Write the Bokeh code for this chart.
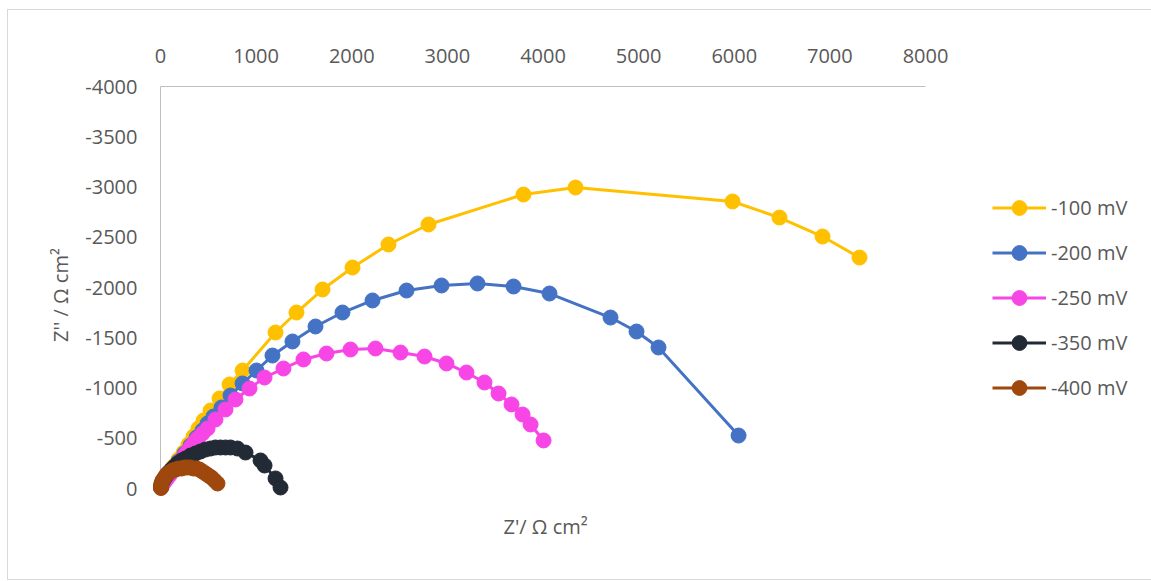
from bokeh.plotting import figure
from bokeh.models import Range1d, FixedTicker, Legend, LegendItem, Title, CustomJSTickFormatter
from bokeh.embed import file_html
from bokeh.resources import INLINE

# ---------------- data ----------------
series_names = ["-100 mV", "-200 mV", "-250 mV", "-350 mV", "-400 mV"]
series_colors = ["#FFC000", "#4472C4", "#F745E6", "#222A35", "#9E480E"]

zre_100 = [10, 42, 84, 136, 188, 241, 293, 345, 397, 450, 523, 617, 722, 858, 1203, 1422,
           1694, 2008, 2384, 2803, 3796, 4340, 5982, 6473, 6923, 7310]
zim_100 = [-20, -70, -139, -219, -289, -358, -438, -517, -597, -677, -776, -896, -1035, -1174,
           -1552, -1751, -1980, -2199, -2428, -2627, -2925, -2995, -2856, -2696, -2507, -2298]

zre_200 = [10, 42, 84, 136, 188, 251, 314, 377, 439, 492, 554, 638, 732, 858, 1004, 1171, 1380,
           1621, 1903, 2217, 2573, 2939, 3315, 3692, 4068, 4706, 4978, 5208, 6045]
zim_200 = [-20, -70, -129, -199, -269, -348, -428, -507, -577, -647, -716, -806, -925, -1045,
           -1174, -1323, -1463, -1612, -1751, -1871, -1970, -2020, -2040, -2010, -1940, -1701,
           -1562, -1403, -527]

zre_250 = [10, 31, 63, 94, 125, 157, 188, 220, 251, 282, 314, 345, 387, 439, 492, 575, 680, 784,
           931, 1088, 1286, 1495, 1736, 1987, 2248, 2510, 2761, 2991, 3200, 3388, 3535, 3671,
           3786, 3870, 4006]
zim_250 = [-20, -50, -90, -129, -169, -209, -249, -289, -328, -368, -408, -448, -498, -547, -597,
           -687, -786, -886, -995, -1104, -1194, -1284, -1343, -1383, -1393, -1353, -1313, -1244,
           -1154, -1055, -945, -836, -736, -637, -478]

zre_350 = [5, 10, 21, 42, 63, 84, 115, 146, 178, 220, 261, 314, 366, 418, 471, 523, 575, 627,
           680, 732, 805, 889, 1046, 1088, 1203, 1255]
zim_350 = [-10, -40, -70, -100, -129, -159, -189, -219, -249, -279, -298, -328, -348, -368,
           -388, -398, -408, -408, -408, -408, -398, -358, -279, -229, -100, -10]

zre_400 = [5, 5, 10, 21, 42, 63, 94, 125, 157, 188, 220, 251, 282, 314, 345, 377, 408, 439,
           471, 502, 533, 565, 596]
zim_400 = [-5, -20, -50, -80, -109, -139, -159, -179, -189, -199, -199, -209, -209, -209,
           -199, -199, -189, -169, -149, -129, -109, -80, -50]

x_ticks = [0, 1000, 2000, 3000, 4000, 5000, 6000, 7000, 8000]
y_ticks = [-4000, -3500, -3000, -2500, -2000, -1500, -1000, -500, 0]

x_title = "Z'/ Ω cm²"
y_title = "Z'' / Ω cm²"

all_x = [zre_100, zre_200, zre_250, zre_350, zre_400]
all_y = [zim_100, zim_200, zim_250, zim_350, zim_400]

# ---------------- figure ----------------
FONT = "Open Sans"
TXT = "#595959"
AXIS = "#BFBFBF"

p = figure(
    frame_width=780, frame_height=417,
    min_border_left=137, min_border_right=224, min_border_top=76, min_border_bottom=76,
    x_range=Range1d(-156.86, 8000), y_range=Range1d(149.25, -4000),
    x_axis_location="above", y_axis_location="left",
    output_backend="svg", toolbar_location=None,
)
p.styles = {"border": "1px solid #D9D9D9", "margin-left": "7px", "margin-top": "9px"}
p.grid.visible = False
p.outline_line_color = None
p.background_fill_color = "white"
p.border_fill_color = "white"

plain = CustomJSTickFormatter(code="return tick.toString();")

xa = p.xaxis[0]
xa.ticker = FixedTicker(ticks=x_ticks)
xa.formatter = plain
xa.bounds = (0, 8000)
xa.axis_line_color = AXIS
xa.axis_line_width = 1
xa.major_tick_line_color = None
xa.minor_tick_line_color = None
xa.major_label_text_font = FONT
xa.major_label_text_font_size = "20px"
xa.major_label_text_color = TXT
xa.major_label_standoff = 18

ya = p.yaxis[0]
ya.ticker = FixedTicker(ticks=y_ticks)
ya.formatter = plain
ya.axis_line_color = None
ya.major_tick_line_color = None
ya.minor_tick_line_color = None
ya.major_label_text_font = FONT
ya.major_label_text_font_size = "20px"
ya.major_label_text_color = TXT
ya.major_label_standoff = 2
ya.axis_label = y_title
ya.axis_label_text_font = FONT
ya.axis_label_text_font_size = "20px"
ya.axis_label_text_font_style = "normal"
ya.axis_label_text_color = TXT
ya.axis_label_standoff = 8

# y axis line drawn at Z' = 0
p.segment(x0=[x_ticks[0]], y0=[y_ticks[-1]], x1=[x_ticks[0]], y1=[y_ticks[0]],
          line_color=AXIS, line_width=1)

items = []
for name, col, xs, ys in zip(series_names, series_colors, all_x, all_y):
    lr = p.line(xs, ys, line_color=col, line_width=3)
    sr = p.scatter(xs, ys, size=15, fill_color=col, line_color=col, marker="circle")
    items.append(LegendItem(label=name, renderers=[lr, sr]))

legend = Legend(
    items=items, location=(67, 97),
    glyph_width=54, glyph_height=37, label_height=20, spacing=8,
    padding=0, margin=0, border_line_color=None, background_fill_alpha=0,
    label_text_font=FONT, label_text_font_size="20px", label_text_color=TXT,
    label_standoff=5,
)
p.add_layout(legend, "right")

xt = Title(text=x_title, align="left", offset=358, standoff=14,
           text_font=FONT, text_font_size="20px", text_font_style="normal", text_color=TXT)
p.add_layout(xt, "below")

open("out.html", "w").write(file_html(p, INLINE))
